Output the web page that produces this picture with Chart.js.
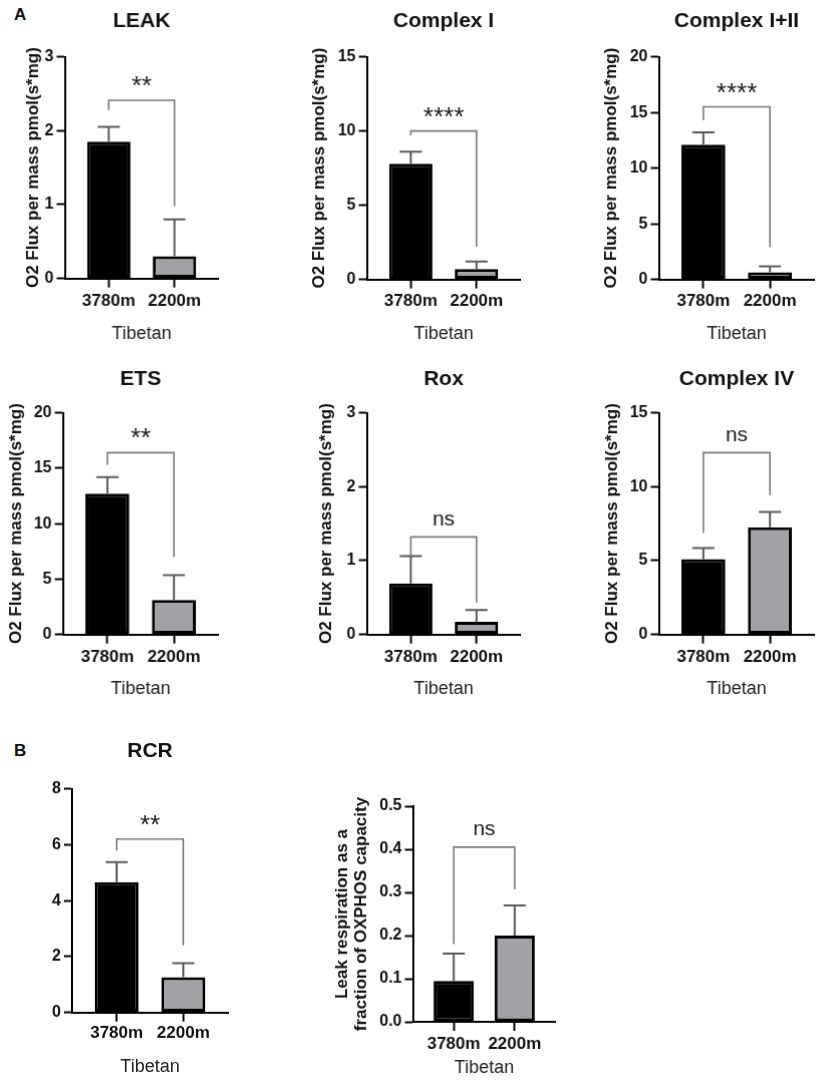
<!DOCTYPE html>
<html>
<head>
<meta charset="utf-8">
<script src="https://cdn.jsdelivr.net/npm/chart.js@4.4.1/dist/chart.umd.min.js"></script>
<style>
  html, body { margin: 0; padding: 0; background: #fff; }
  body { width: 829px; height: 1088px; position: relative; overflow: hidden; font-family: "Liberation Sans", Arial, sans-serif; }
  .box { position: absolute; }
  .tag { position: absolute; font-weight: bold; font-size: 17px; line-height: 17px; color: #111; }
</style>
</head>
<body>
<div class="tag" style="left:14px; top:6px;">A</div>
<div class="tag" style="left:14px; top:742px;">B</div>
<script>
// Data
const groups = ['3780m', '2200m'];
const titles = ['LEAK', 'Complex I', 'Complex I+II', 'ETS', 'Rox', 'Complex IV', 'RCR', ''];
const fluxLabel = 'O2 Flux per mass pmol(s*mg)';
const yLabels = [fluxLabel, fluxLabel, fluxLabel, fluxLabel, fluxLabel, fluxLabel, '',
    ['Leak respiration as a', 'fraction of OXPHOS capacity']];
const xLabel = 'Tibetan';
const means = [[1.85, 0.30], [7.8, 0.7], [12.1, 0.65], [12.7, 3.1], [0.69, 0.17], [5.1, 7.26], [4.66, 1.26], [0.095, 0.20]];
const sds = [[0.2, 0.5], [0.8, 0.5], [1.1, 0.52], [1.5, 2.25], [0.37, 0.16], [0.75, 1.02], [0.72, 0.5], [0.063, 0.07]];
const yMax = [3, 15, 20, 20, 3, 15, 8, 0.5];
const yStep = [1, 5, 5, 5, 1, 5, 2, 0.1];
const sigText = ['**', '****', '****', '**', 'ns', 'ns', '**', 'ns'];
const bracketTop = [2.41, 10.0, 15.5, 16.4, 1.32, 12.3, 6.2, 0.405];
const bracketEnds = [[2.28, 0.98], [9.7, 2.2], [14.3, 2.9], [15.3, 7.0], [1.05, 0.43], [6.86, 9.43], [5.8, 2.4], [0.18, 0.307]];

// Layout: axis left, axis right, plot top, plot bottom, y-title x, title y, category y, x-title y
const frames = [
    [65, 218, 57, 278, 34, 22, 301, 333],
    [367, 520, 57, 279, 320, 22, 301, 333],
    [659, 814, 57, 279, 612, 22, 301, 333],
    [63, 218, 413, 634, 17, 380, 657, 688],
    [367, 520, 413, 634, 327, 380, 657, 688],
    [659, 814, 413, 634, 613, 380, 657, 688],
    [72, 228, 789, 1012, null, 752, 1033, 1066],
    [413, 555, 806, 1021, 343, null, 1043, 1067]
];

const FONT = '"Liberation Sans", Arial, sans-serif';
const TITLE_LH = 21 * 1.2;
const YT_LH = 17 * 1.12;
const XT_LH = 18 * 1.2;
const CAT_LH = 17 * 1.2;

// error bars + significance brackets
function marksPlugin(i) {
    return {
        id: 'marks' + i,
        afterDatasetsDraw(chart) {
            const { ctx, scales: { x, y } } = chart;
            ctx.save();
            ctx.strokeStyle = '#5a5a5a';
            ctx.lineWidth = 2;
            means[i].forEach((m, j) => {
                const px = x.getPixelForValue(j);
                const y0 = y.getPixelForValue(m);
                const y1 = y.getPixelForValue(m + sds[i][j]);
                ctx.beginPath();
                ctx.moveTo(px, y0);
                ctx.lineTo(px, y1);
                ctx.moveTo(px - 11, y1);
                ctx.lineTo(px + 11, y1);
                ctx.stroke();
            });

            const xa = x.getPixelForValue(0);
            const xb = x.getPixelForValue(1);
            const yt = y.getPixelForValue(bracketTop[i]);
            ctx.strokeStyle = '#7a7a7a';
            ctx.lineWidth = 1.6;
            ctx.beginPath();
            ctx.moveTo(xa, y.getPixelForValue(bracketEnds[i][0]));
            ctx.lineTo(xa, yt);
            ctx.lineTo(xb, yt);
            ctx.lineTo(xb, y.getPixelForValue(bracketEnds[i][1]));
            ctx.stroke();

            const isNs = sigText[i] === 'ns';
            ctx.font = (isNs ? '21px ' : '26px ') + FONT;
            ctx.fillStyle = '#1a1a1a';
            ctx.textAlign = 'center';
            ctx.textBaseline = 'alphabetic';
            const mt = ctx.measureText(sigText[i]);
            const cy = yt - (isNs ? 17 : 19);
            ctx.fillText(sigText[i], (xa + xb) / 2, cy + (mt.actualBoundingBoxAscent - mt.actualBoundingBoxDescent) / 2);
            ctx.restore();
        }
    };
}

frames.forEach((f, i) => {
    const [axL, axR, pTop, pBot, yTitleX, titleY, catY, xTitleY] = f;
    const hasTitle = titles[i] !== '';
    const hasYTitle = yLabels[i] !== '';

    const boxTop = hasTitle ? titleY - TITLE_LH / 2 : pTop - 20;
    const boxLeft = hasYTitle ? yTitleX - YT_LH / 2 : axL - 45;
    const boxRight = axR + 8;
    const boxBottom = xTitleY + XT_LH / 2 + 4;

    const div = document.createElement('div');
    div.className = 'box';
    div.style.left = boxLeft + 'px';
    div.style.top = boxTop + 'px';
    div.style.width = (boxRight - boxLeft) + 'px';
    div.style.height = (boxBottom - boxTop) + 'px';
    const canvas = document.createElement('canvas');
    div.appendChild(canvas);
    document.body.appendChild(div);

    new Chart(canvas.getContext('2d'), {
        type: 'bar',
        data: {
            datasets: [{
                data: means[i].map((m, j) => ({ x: j, y: m })),
                backgroundColor: ['#000000', '#a2a2a6'],
                borderColor: '#000000',
                borderWidth: 3,
                borderSkipped: false,
                barPercentage: 0.66,
                categoryPercentage: 1
            }]
        },
        options: {
            responsive: true,
            maintainAspectRatio: false,
            animation: false,
            layout: {
                padding: { top: hasTitle ? 0 : pTop - boxTop, left: 0, right: 8, bottom: 4 }
            },
            plugins: {
                legend: { display: false },
                tooltip: { enabled: false },
                title: {
                    display: hasTitle,
                    text: titles[i],
                    fullSize: false,
                    color: '#111',
                    font: { family: FONT, size: 21, weight: 'bold', lineHeight: 1.2 },
                    padding: { top: 0, bottom: pTop - boxTop - TITLE_LH }
                }
            },
            scales: {
                x: {
                    type: 'linear',
                    offset: false,
                    min: -0.67,
                    max: 1.67,
                    afterBuildTicks: s => { s.ticks = groups.map((g, j) => ({ value: j })); },
                    afterFit: s => { s.height = xTitleY + XT_LH / 2 - pBot; },
                    ticks: {
                        callback: v => groups[v],
                        color: '#111',
                        padding: catY - pBot - 9 - CAT_LH / 2,
                        maxRotation: 0,
                        autoSkip: false,
                        font: { family: FONT, size: 17, weight: 'bold', lineHeight: 1.2 }
                    },
                    grid: { offset: false, drawOnChartArea: false, drawTicks: true, tickLength: 9, tickWidth: 2, tickColor: '#000' },
                    border: { display: true, color: '#000', width: 2 },
                    title: {
                        display: true,
                        text: xLabel,
                        color: '#222',
                        padding: 0,
                        font: { family: FONT, size: 18, lineHeight: 1.2 }
                    }
                },
                y: {
                    min: 0,
                    max: yMax[i],
                    afterFit: s => { s.width = axL - boxLeft; },
                    ticks: {
                        stepSize: yStep[i],
                        color: '#111',
                        padding: 3,
                        callback: v => (yStep[i] < 1 ? v.toFixed(1) : v),
                        font: { family: FONT, size: 16, weight: 'bold' }
                    },
                    grid: { drawOnChartArea: false, drawTicks: true, tickLength: 8, tickWidth: 2, tickColor: '#000' },
                    border: { display: true, color: '#000', width: 2 },
                    title: {
                        display: hasYTitle,
                        text: yLabels[i],
                        color: '#111',
                        padding: 0,
                        font: { family: FONT, size: 17, weight: 'bold', lineHeight: 1.12 }
                    }
                }
            }
        },
        plugins: [marksPlugin(i)]
    });
});
</script>
</body>
</html>
